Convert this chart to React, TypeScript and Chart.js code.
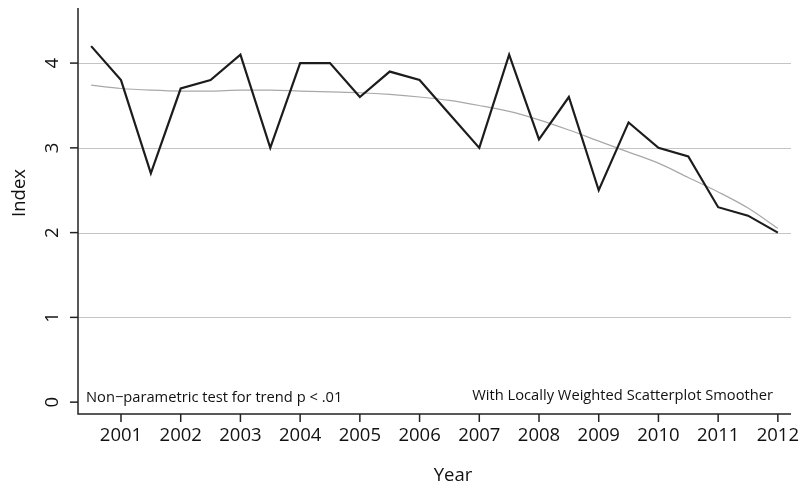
import React, { useEffect, useRef } from "react";
import { Chart, registerables } from "chart.js";

Chart.register(...registerables);

const years: number[] = [
  2000.5, 2001, 2001.5, 2002, 2002.5, 2003, 2003.5, 2004, 2004.5, 2005, 2005.5, 2006,
  2006.5, 2007, 2007.5, 2008, 2008.5, 2009, 2009.5, 2010, 2010.5, 2011, 2011.5, 2012,
];
const indexValues: number[] = [
  4.2, 3.8, 2.7, 3.7, 3.8, 4.1, 3.0, 4.0, 4.0, 3.6, 3.9, 3.8,
  3.4, 3.0, 4.1, 3.1, 3.6, 2.5, 3.3, 3.0, 2.9, 2.3, 2.2, 2.0,
];
const smoothValues: number[] = [
  3.74, 3.7, 3.68, 3.67, 3.67, 3.68, 3.68, 3.67, 3.66, 3.65, 3.63, 3.6,
  3.56, 3.5, 3.43, 3.33, 3.21, 3.08, 2.95, 2.82, 2.65, 2.48, 2.29, 2.05,
];
const xTicks: number[] = [2001, 2002, 2003, 2004, 2005, 2006, 2007, 2008, 2009, 2010, 2011, 2012];
const yTicks: number[] = [0, 1, 2, 3, 4];
const gridValues: number[] = [1, 2, 3, 4];
const leftNote = "Non\u2212parametric test for trend p < .01";
const rightNote = "With Locally Weighted Scatterplot Smoother";
const xTitle = "Year";
const yTitle = "Index";

const FONT = '"Open Sans", "Noto Sans", sans-serif';

export default function App() {
  const ref = useRef<HTMLCanvasElement>(null);

  useEffect(() => {
    document.body.style.margin = "0";
    const canvas = ref.current;
    if (!canvas) return;

    const decor = {
      id: "decor",
      beforeDatasetsDraw(chart: any) {
        const ctx = chart.ctx;
        const xs = chart.scales.x;
        const ys = chart.scales.y;
        ctx.save();
        ctx.strokeStyle = "#c4c4c4";
        ctx.lineWidth = 1.2;
        for (const g of gridValues) {
          const py = Math.round(ys.getPixelForValue(g)) + 0.5;
          ctx.beginPath();
          ctx.moveTo(xs.left, py);
          ctx.lineTo(xs.right, py);
          ctx.stroke();
        }
        ctx.restore();
      },
      afterDatasetsDraw(chart: any) {
        const ctx = chart.ctx;
        const xs = chart.scales.x;
        const ys = chart.scales.y;
        const area = chart.chartArea;
        ctx.save();
        ctx.strokeStyle = "#222";
        ctx.lineWidth = 1.5;
        ctx.beginPath();
        ctx.moveTo(area.left, area.top);
        ctx.lineTo(area.left, area.bottom);
        ctx.lineTo(area.right, area.bottom);
        ctx.stroke();
        ctx.fillStyle = "#111";
        ctx.font = "18.5px " + FONT;
        ctx.textAlign = "center";
        ctx.textBaseline = "middle";
        for (const t of xTicks) {
          const px = xs.getPixelForValue(t);
          ctx.beginPath();
          ctx.moveTo(px, area.bottom);
          ctx.lineTo(px, area.bottom + 8);
          ctx.stroke();
          ctx.fillText(String(t), px, area.bottom + 22);
        }
        for (const t of yTicks) {
          const py = ys.getPixelForValue(t);
          ctx.beginPath();
          ctx.moveTo(area.left, py);
          ctx.lineTo(area.left - 8, py);
          ctx.stroke();
          ctx.save();
          ctx.translate(area.left - 25, py);
          ctx.rotate(-Math.PI / 2);
          ctx.fillText(String(t), 0, 0);
          ctx.restore();
        }
        ctx.fillText(xTitle, 453, 476);
        ctx.save();
        ctx.translate(20, 193);
        ctx.rotate(-Math.PI / 2);
        ctx.fillText(yTitle, 0, 0);
        ctx.restore();
        ctx.font = "14.7px " + FONT;
        ctx.textAlign = "left";
        ctx.fillText(leftNote, 86, 398);
        ctx.textAlign = "right";
        ctx.fillText(rightNote, 773, 396);
        ctx.restore();
      },
    };

    const chart = new Chart(canvas, {
      type: "line",
      data: {
        datasets: [
          {
            label: yTitle,
            data: years.map((x, i) => ({ x, y: indexValues[i] })),
            borderColor: "#1c1c1c",
            borderWidth: 2.2,
            pointRadius: 0,
            tension: 0,
            fill: false,
          },
          {
            label: "LOWESS",
            data: years.map((x, i) => ({ x, y: smoothValues[i] })),
            borderColor: "#a8a8a8",
            borderWidth: 1.2,
            pointRadius: 0,
            cubicInterpolationMode: "monotone",
            fill: false,
          },
        ],
      },
      options: {
        animation: false,
        responsive: false,
        layout: { padding: { left: 78, right: 10, top: 8, bottom: 70 } },
        plugins: { legend: { display: false }, tooltip: { enabled: false } },
        scales: {
          x: { type: "linear", min: 2000.28, max: 2012.22, display: false },
          y: { type: "linear", min: -0.14, max: 4.65, display: false },
        },
      },
      plugins: [decor],
    });

    return () => chart.destroy();
  }, []);

  return <canvas ref={ref} width={801} height={484} style={{ display: "block" }} />;
}
